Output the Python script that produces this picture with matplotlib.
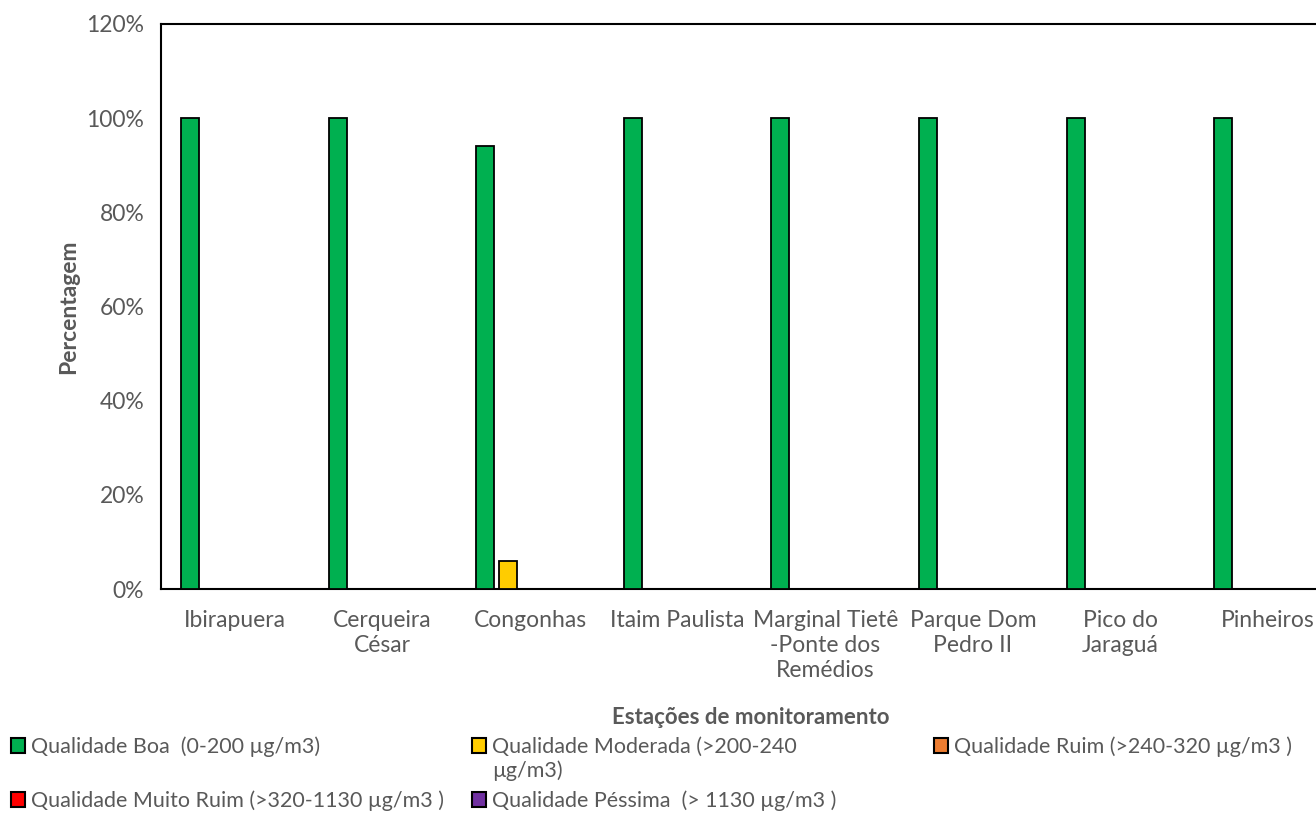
import matplotlib
matplotlib.use("Agg")
import matplotlib.pyplot as plt
import matplotlib.patches as mpatches
import numpy as np

plt.rcParams['font.family'] = ['Lato', 'DejaVu Sans']

stations = ["Ibirapuera", "Cerqueira\nCésar", "Congonhas", "Itaim Paulista",
            "Marginal Tietê\n-Ponte dos\nRemédios", "Parque Dom\nPedro II",
            "Pico do\nJaraguá", "Pinheiros"]

boa = [100, 100, 94, 100, 100, 100, 100, 100]
moderada = [0, 0, 6, 0, 0, 0, 0, 0]
ruim = [0, 0, 0, 0, 0, 0, 0, 0]
muito_ruim = [0, 0, 0, 0, 0, 0, 0, 0]
pessima = [0, 0, 0, 0, 0, 0, 0, 0]

series_labels = ["Qualidade Boa  (0-200 µg/m3)",
                 "Qualidade Moderada (>200-240",
                 "Qualidade Ruim (>240-320 µg/m3 )",
                 "Qualidade Muito Ruim (>320-1130 µg/m3 )",
                 "Qualidade Péssima  (> 1130 µg/m3 )"]
series_values = [boa, moderada, ruim, muito_ruim, pessima]
colors = ["#00B050", "#FFCC00", "#ED7D31", "#FF0000", "#7030A0"]

yticks = [0, 20, 40, 60, 80, 100, 120]

W, H = 1316, 836
fig = plt.figure(figsize=(W / 100, H / 100), dpi=100)
ax = fig.add_axes([161 / W, 1 - 589 / H, (1342 - 161) / W, (589 - 24) / H])

gray = "#595959"
x = np.arange(len(stations))
pitch = 0.152
width = 0.122
for i, (vals, col) in enumerate(zip(series_values, colors)):
    heights = np.array(vals, dtype=float)
    mask = heights > 0
    ax.bar(x[mask] + (i - 2) * pitch, heights[mask], width=width, color=col,
           edgecolor="black", linewidth=1.3, zorder=3)

ax.set_xlim(-0.5, len(stations) - 0.5)
ax.set_ylim(0, 120)
ax.set_yticks(yticks)
ax.set_yticklabels([f"{t}%" for t in yticks], color=gray, fontsize=16.5)
ax.set_xticks(x)
ax.set_xticklabels(stations, color=gray, fontsize=16.5, linespacing=1.25)
ax.tick_params(axis="both", length=0)
ax.tick_params(axis="y", pad=12)
ax.tick_params(axis="x", pad=15)
for s in ax.spines.values():
    s.set_color("black")
    s.set_linewidth(1.5)

fig.text(69 / W, 1 - 307 / H, "Percentagem", rotation=90, ha="center", va="center",
         fontsize=16.5, fontweight="bold", color=gray)
fig.text(751 / W, 1 - 718 / H, "Estações de monitoramento", ha="center", va="center",
         fontsize=16, fontweight="bold", color=gray)

# legend entries, one per slot in a 3-column grid
slots = [(11, 747), (472, 747), (934, 747), (11, 801), (472, 801)]
for lab, col, (px, py) in zip(series_labels, colors, slots):
    h = mpatches.Patch(facecolor=col, edgecolor="black", linewidth=1.5)
    fig.legend(handles=[h], labels=[lab], loc="center left",
               bbox_to_anchor=(px / W, 1 - py / H), frameon=False,
               handlelength=0.66, handleheight=0.66, handletextpad=0.25,
               borderpad=0, borderaxespad=0,
               prop={"size": 15.5}, labelcolor=gray)
fig.text(492 / W, 1 - 771 / H, "µg/m3)", ha="left", va="center", fontsize=15.5, color=gray)

fig.savefig("out.png", dpi=100)
